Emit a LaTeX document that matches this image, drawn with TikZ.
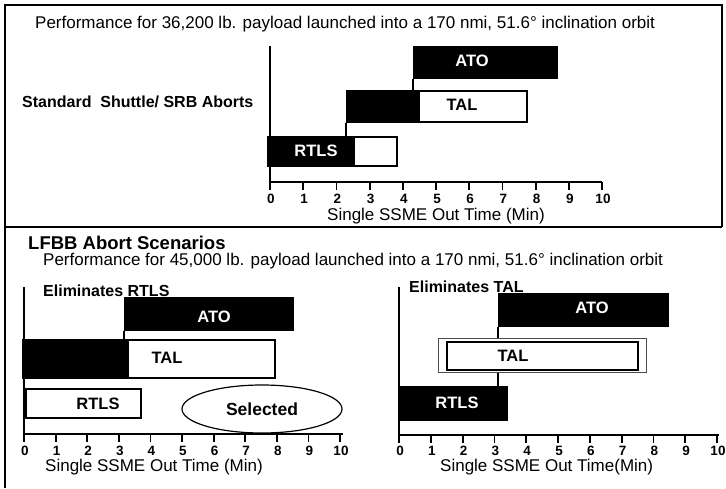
\documentclass[tikz,border=0pt]{standalone}
\usepackage{fontspec}
\setmainfont{Liberation Sans}
\usepackage{tikz}
\usetikzlibrary{shapes.geometric}
\tikzstyle{BlackBar}=[anchor=north west, inner sep=0pt, fill=black, draw=black, line width=1.6pt]
\tikzstyle{WhiteBar}=[anchor=north west, inner sep=0pt, fill=white, draw=black, line width=1.6pt]
\tikzstyle{ThinBar}=[anchor=north west, inner sep=0pt, fill=white, draw=black!70, line width=0.6pt]
\tikzstyle{BarLabel}=[inner sep=0pt, font=\fontsize{16.5}{16.5}\selectfont\bfseries]
\tikzstyle{Heading}=[anchor=west, inner sep=0pt, font=\fontsize{16}{16}\selectfont\bfseries]
\tikzstyle{Caption}=[anchor=west, inner sep=0pt, font=\fontsize{17}{17}\selectfont]
\tikzstyle{TickLabel}=[inner sep=0pt, font=\fontsize{13.5}{13.5}\selectfont\bfseries]
\tikzstyle{Selection}=[ellipse, draw=black, line width=1.2pt, inner sep=0pt, minimum width=160pt, minimum height=48pt, font=\fontsize{17.5}{17.5}\selectfont\bfseries]
\tikzstyle{axis}=[line width=1.8pt]
\tikzstyle{link}=[line width=1.2pt]
\tikzstyle{frame}=[line width=1.3pt]
\pgfdeclarelayer{nodelayer}
\pgfdeclarelayer{edgelayer}
\pgfsetlayers{nodelayer, edgelayer, main}

\begin{document}
\begin{tikzpicture}[x=1pt, y=-1pt]
	\useasboundingbox (0,0) rectangle (726,488);
	\begin{pgfonlayer}{nodelayer}
		% headings
		\node [style=Caption] (title_std) at (35,24) {Performance for 36,200 lb. payload launched into a 170 nmi, 51.6° inclination orbit};
		\node [style=Heading] (head_std) at (22,102) {Standard\ \ Shuttle/ SRB Aborts};
		\node [style=Heading, font=\fontsize{18.5}{18.5}\selectfont\bfseries] (head_lfbb) at (28,243) {LFBB Abort Scenarios};
		\node [style=Caption] (title_lfbb) at (43,261) {Performance for 45,000 lb. payload launched into a 170 nmi, 51.6° inclination orbit};
		\node [style=Heading] (head_left) at (43,291) {Eliminates RTLS};
		\node [style=Heading] (head_right) at (409,287) {Eliminates TAL};

		% standard aborts
		\node [style=BlackBar, minimum width=143pt, minimum height=31pt] (ato) at (413,46) {};
		\node [style=BlackBar, minimum width=72pt, minimum height=31pt] (tal_black) at (346,90) {};
		\node [style=WhiteBar, minimum width=108pt, minimum height=31pt] (tal_white) at (418,90) {};
		\node [style=BlackBar, minimum width=86pt, minimum height=29pt] (rtls_black) at (267,136) {};
		\node [style=WhiteBar, minimum width=43pt, minimum height=29pt] (rtls_white) at (353,136) {};
		\node [style=BarLabel, text=white] (ato_text) at (472,61) {ATO};
		\node [style=BarLabel] (tal_text) at (462,105) {TAL};
		\node [style=BarLabel, text=white] (rtls_text) at (316,151) {RTLS};

		% eliminates rtls
		\node [style=BlackBar, minimum width=168pt, minimum height=32pt] (l_ato) at (124,297) {};
		\node [style=BlackBar, minimum width=105pt, minimum height=38pt] (l_tal_black) at (22,339) {};
		\node [style=WhiteBar, minimum width=147pt, minimum height=38pt] (l_tal_white) at (127,339) {};
		\node [style=WhiteBar, minimum width=115pt, minimum height=29pt] (l_rtls) at (25,388) {};
		\node [style=BarLabel, text=white] (l_ato_text) at (214,317) {ATO};
		\node [style=BarLabel] (l_tal_text) at (167,358) {TAL};
		\node [style=BarLabel] (l_rtls_text) at (98,404) {RTLS};
		\node [style=Selection] (selected) at (262,409) {Selected};

		% eliminates tal
		\node [style=BlackBar, minimum width=169pt, minimum height=32pt] (r_ato) at (498,293) {};
		\node [style=ThinBar, minimum width=208pt, minimum height=34pt] (r_tal_outer) at (438,338) {};
		\node [style=WhiteBar, minimum width=191pt, minimum height=28pt] (r_tal) at (446,341) {};
		\node [style=BlackBar, minimum width=107pt, minimum height=33pt] (r_rtls) at (399,386) {};
		\node [style=BarLabel, text=white] (r_ato_text) at (592,308) {ATO};
		\node [style=BarLabel] (r_tal_text) at (513,356) {TAL};
		\node [style=BarLabel, text=white] (r_rtls_text) at (457,403) {RTLS};

		% axis captions
		\node [style=Caption] (top_caption) at (327,216) {Single SSME Out Time (Min)};
		\node [style=Caption] (left_caption) at (45,467) {Single SSME Out Time (Min)};
		\node [style=Caption] (right_caption) at (440,467) {Single SSME Out Time(Min)};
	\end{pgfonlayer}
	\begin{pgfonlayer}{edgelayer}
		% frame
		\coordinate (frame_bl) at (5,488);
		\coordinate (frame_tl) at (5,5);
		\coordinate (frame_tr) at (722,5);
		\coordinate (split_l) at (5,227);
		\coordinate (split_r) at (722,227);
		\draw [style=frame] (frame_bl) -- (frame_tl) -- (frame_tr) -- (split_r);
		\draw [style=frame] (split_l) -- (split_r);

		% standard aborts
		\coordinate (top_origin) at (270,182);
		\draw [style=axis] (270,46) -- (top_origin) -- (602,182);
		\foreach \i in {0,...,10} {
			\draw [style=axis] (270+33.2*\i,182) -- ++(0,8);
			\node [style=TickLabel] (top_tick\i) at (271+33.2*\i,199) {\i};
		}
		\draw [style=link] (ato.south west) -- (ato.south west |- tal_white.north);
		\draw [style=link] (tal_black.south west) -- (tal_black.south west |- rtls_white.north);

		% eliminates rtls
		\coordinate (left_origin) at (24,434);
		\draw [style=axis] (24,287) -- (left_origin) -- (343,434);
		\foreach \i in {0,...,10} {
			\draw [style=axis] (24+31.6*\i,434) -- ++(0,8);
			\node [style=TickLabel] (left_tick\i) at (25+31.6*\i,451) {\i};
		}
		\draw [style=link] (l_ato.south west) -- (l_ato.south west |- l_tal_white.north);

		% eliminates tal
		\coordinate (right_origin) at (399,435);
		\draw [style=axis] (399,287) -- (right_origin) -- (719,435);
		\foreach \i in {0,...,10} {
			\draw [style=axis] (399+31.8*\i,435) -- ++(0,8);
			\node [style=TickLabel] (right_tick\i) at (400+31.8*\i,451) {\i};
		}
		\draw [style=link] (r_ato.south west) -- (r_ato.south west |- r_tal_outer.north);
		\draw [style=link] (r_ato.south west |- r_tal_outer.south) -- (r_ato.south west |- r_rtls.north);
	\end{pgfonlayer}
\end{tikzpicture}
\end{document}
